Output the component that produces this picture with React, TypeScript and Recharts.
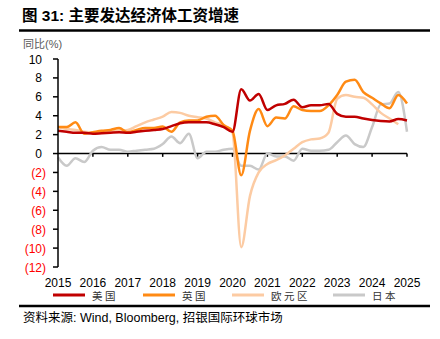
import React from "react";
import {
  LineChart,
  Line,
  XAxis,
  YAxis,
  ReferenceLine,
} from "recharts";

// quarterly points, 2015Q1 .. 2025Q1
const years = [2015, 2016, 2017, 2018, 2019, 2020, 2021, 2022, 2023, 2024, 2025];

const us = [
  2.4, 2.3, 2.2, 2.2, 2.1, 2.15, 2.2, 2.25, 2.2, 2.3, 2.4, 2.5,
  2.6, 2.9, 3.2, 3.3, 3.3, 3.3, 3.1, 2.8, 2.3, 6.8, 5.6, 6.3,
  4.6, 5.1, 5.25, 5.7, 4.9, 5.1, 5.1, 5.25, 4.2, 3.9, 3.9, 3.7,
  3.55, 3.45, 3.4, 3.65, 3.5,
];

const uk = [
  2.8, 2.8, 3.3, 2.1, 2.25, 2.4, 2.5, 2.7, 2.25, 2.5, 2.7, 2.7,
  2.85, 2.3, 3.3, 3.5, 3.5, 3.9, 4.0, 3.0, 2.4, -2.3, 2.4, 4.7,
  2.9, 3.8, 3.7, 5.0, 4.6, 4.5, 4.5, 5.1, 6.2, 7.6, 7.8, 6.5,
  5.9, 5.3, 4.8, 6.2, 5.3,
];

const euro: (number | null)[] = [
  2.8, 2.6, 2.5, 2.3, 2.25, 2.2, 2.3, 2.45, 2.5, 2.9, 3.3, 3.6,
  3.9, 4.4, 4.3, 4.0, 3.85, 3.7, 3.3, 3.0, 2.2, -9.9, -4.5, -2.0,
  -1.1, -0.7, -0.2, 0.5, 1.2, 1.5, 1.6, 2.2, 5.8, 6.2, 6.0, 5.9,
  5.2, 4.3, 3.7, 3.1, null,
];

const japan = [
  -0.4, -1.3, -0.5, -0.9, 0.3, 0.7, 0.4, 0.4, 0.2, 0.3, 0.4, 0.5,
  1.0, 1.8, 1.1, 2.1, -0.5, 0.2, 0.2, 0.4, 0.5, -1.3, -1.3, -1.7,
  0.0, -0.3, -0.3, -0.75, 0.5, 0.3, 0.3, 0.4, 1.2, 1.9, 1.0, 0.7,
  2.8, 5.2, 5.3, 6.5, 2.3,
];

const yTicks = [-12, -10, -8, -6, -4, -2, 0, 2, 4, 6, 8, 10];
const xTicks = years.map((_, k) => k * 4);

const RED = "#C00000";
const ORANGE = "#FF8A14";
const PEACH = "#FCCBA3";
const GRAY = "#C9C9C9";

const FONT = "'Liberation Sans', Arial, 'Noto Sans CJK SC', sans-serif";

const data = us.map((v, i) => ({
  i,
  us: v,
  uk: uk[i],
  euro: euro[i],
  japan: japan[i],
}));

const legendItems = [
  { name: "美国", color: RED },
  { name: "英国", color: ORANGE },
  { name: "欧元区", color: PEACH },
  { name: "日本", color: GRAY },
];

const YTick = (props: any) => {
  const { x, y, payload } = props;
  const v = payload.value;
  return (
    <text
      x={x}
      y={y}
      dy={4.5}
      textAnchor="end"
      fontSize={12}
      fontFamily={FONT}
      fill={v < 0 ? "#FF0000" : "#000"}
    >
      {v < 0 ? `(${-v})` : `${v}`}
      {v >= 0 && <tspan fillOpacity={0}>)</tspan>}
    </text>
  );
};

const XTick = (props: any) => {
  const { x, payload } = props;
  return (
    <text
      x={x}
      y={287}
      textAnchor="middle"
      fontSize={12}
      fontFamily={FONT}
      fill="#000"
    >
      {2015 + payload.value / 4}
    </text>
  );
};

export default function App() {
  return (
    <div
      style={{
        position: "absolute",
        left: 0,
        top: 0,
        width: 440,
        height: 339,
        background: "#fff",
      }}
    >
      <LineChart
        width={440}
        height={339}
        data={data}
        margin={{ top: 59, right: 33, left: 0, bottom: 52 }}
      >
        <XAxis
          dataKey="i"
          type="number"
          domain={[0, 40]}
          ticks={xTicks}
          axisLine={false}
          tickLine={false}
          tick={<XTick />}
          height={20}
        />
        <YAxis
          type="number"
          domain={[-12, 10]}
          ticks={yTicks}
          width={58}
          axisLine={{ stroke: "#000", strokeWidth: 1.5 }}
          tickLine={{ stroke: "#000", strokeWidth: 1.5 }}
          tickSize={5}
          tickMargin={7}
          tick={<YTick />}
          interval={0}
        />
        <ReferenceLine y={0} stroke="#000" strokeWidth={1.5} />
        {xTicks.slice(1).map((t) => (
          <ReferenceLine
            key={t}
            segment={[
              { x: t, y: 0 },
              { x: t, y: -0.35 },
            ]}
            stroke="#000"
            strokeWidth={1.5}
          />
        ))}
        <Line type="monotone" dataKey="japan" stroke={GRAY} strokeWidth={2.5} dot={false} isAnimationActive={false} />
        <Line type="monotone" dataKey="euro" stroke={PEACH} strokeWidth={2.5} dot={false} isAnimationActive={false} />
        <Line type="monotone" dataKey="uk" stroke={ORANGE} strokeWidth={2.5} dot={false} isAnimationActive={false} />
        <Line type="monotone" dataKey="us" stroke={RED} strokeWidth={2.5} dot={false} isAnimationActive={false} />
      </LineChart>

      <svg
        width={440}
        height={339}
        style={{ position: "absolute", left: 0, top: 0, pointerEvents: "none" }}
      >
        <text x={22} y={21} fontSize={15.5} fontWeight="bold" fontFamily={FONT} fill="#000">
          图 31: 主要发达经济体工资增速
        </text>
        <line x1={19} x2={430} y1={30.5} y2={30.5} stroke="#000" strokeWidth={2.5} />
        <text x={23} y={47.5} fontSize={11} fontFamily={FONT} fill="#595959">
          同比(%)
        </text>

        {legendItems.map((item, k) => {
          const lx = [53, 143, 232, 333][k];
          return (
            <g key={item.name}>
              <line x1={lx} x2={lx + 32} y1={295} y2={295} stroke={item.color} strokeWidth={3} />
              <text
                x={lx + 39}
                y={299.5}
                fontSize={10.5}
                letterSpacing={2.5}
                fontFamily={FONT}
                fill="#333"
              >
                {item.name}
              </text>
            </g>
          );
        })}

        <line x1={19} x2={430} y1={306} y2={306} stroke="#000" strokeWidth={2.5} />
        <text x={23} y={322} fontSize={12.5} fontFamily={FONT} fill="#000">
          资料来源: Wind, Bloomberg, 招银国际环球市场
        </text>
      </svg>
    </div>
  );
}
